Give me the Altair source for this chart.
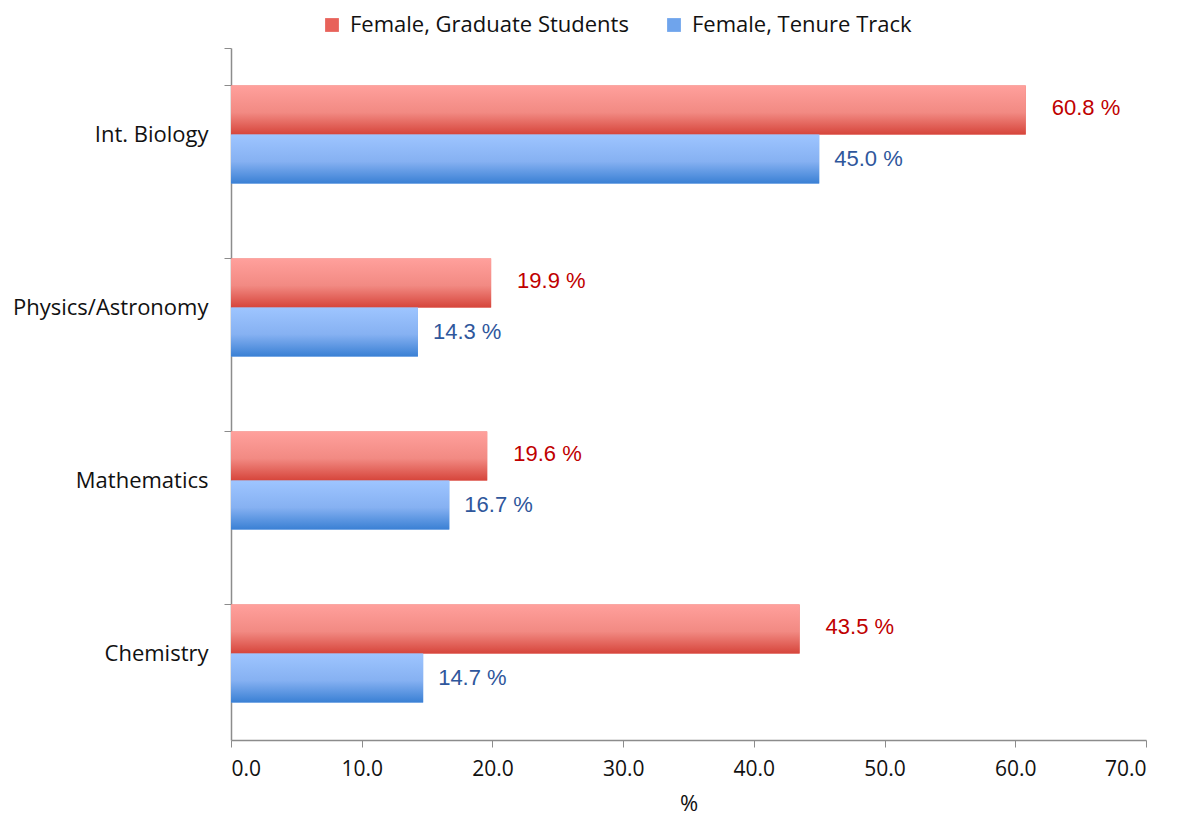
import altair as alt
import pandas as pd

categories = ["Int. Biology", "Physics/Astronomy", "Mathematics", "Chemistry"]
series = ["Female, Graduate Students", "Female, Tenure Track"]
grad_students = [60.8, 19.9, 19.6, 43.5]
tenure_track = [45.0, 14.3, 16.7, 14.7]

rows = []
for c, g, t in zip(categories, grad_students, tenure_track):
    rows.append({"category": c, "series": series[0], "value": g})
    rows.append({"category": c, "series": series[1], "value": t})
df = pd.DataFrame(rows)

red_grad = alt.Gradient(
    gradient="linear", x1=0, x2=0, y1=0, y2=1,
    stops=[alt.GradientStop(color="#FFA09C", offset=0),
           alt.GradientStop(color="#F28A83", offset=0.55),
           alt.GradientStop(color="#D6453B", offset=1)])
blue_grad = alt.Gradient(
    gradient="linear", x1=0, x2=0, y1=0, y2=1,
    stops=[alt.GradientStop(color="#9EC5FF", offset=0),
           alt.GradientStop(color="#86B1F2", offset=0.55),
           alt.GradientStop(color="#3A80D4", offset=1)])

y_enc = alt.Y("category:N", sort=categories, title=None,
              scale=alt.Scale(domain=categories, paddingInner=0.434, paddingOuter=0.217),
              axis=alt.Axis(bandPosition=0, tickExtra=True, tickSize=7, tickColor="#8c8c8c",
                            domainColor="#8c8c8c", labelFont="Open Sans", labelFontSize=22,
                            labelColor="#111111", labelPadding=16, domainWidth=1.5,
                            labelLimit=0))
yoff_enc = alt.YOffset("series:N", scale=alt.Scale(domain=series, paddingInner=0, paddingOuter=0))
x_enc = alt.X("value:Q", title="%",
              scale=alt.Scale(domain=[0, 70], nice=False),
              axis=alt.Axis(values=[0, 10, 20, 30, 40, 50, 60, 70], format=".1f", grid=False,
                            tickSize=7, tickColor="#8c8c8c", domainColor="#8c8c8c",
                            domainWidth=1.5,
                            labelFont="Open Sans", labelFontSize=21, labelColor="#111111",
                            labelPadding=11, titleFont="Open Sans", titleFontSize=22,
                            titleFontWeight="normal", titleColor="#111111", titlePadding=14))

base = alt.Chart(df)

legend_bars = base.mark_bar().encode(
    x=x_enc, y=y_enc, yOffset=yoff_enc,
    color=alt.Color("series:N",
                    scale=alt.Scale(domain=series, range=["#E8625A", "#6FA4EC"]),
                    legend=alt.Legend(title=None, orient="none", direction="horizontal",
                                      legendX=90, legendY=-34, symbolType="square",
                                      symbolSize=190, symbolStrokeWidth=0,
                                      labelFont="Open Sans", labelFontSize=22,
                                      labelColor="#111111", columnPadding=34,
                                      labelOffset=7, padding=0, labelLimit=400)))

red_bars = base.transform_filter(alt.datum.series == series[0]).mark_bar(fill=red_grad).encode(
    x=x_enc, y=y_enc, yOffset=yoff_enc)
blue_bars = base.transform_filter(alt.datum.series == series[1]).mark_bar(fill=blue_grad).encode(
    x=x_enc, y=y_enc, yOffset=yoff_enc)

red_text = base.transform_filter(alt.datum.series == series[0]).transform_calculate(
    label="format(datum.value, '.1f') + ' %'").mark_text(
    align="left", baseline="middle", dx=26, dy=-2, font="Liberation Sans", fontSize=22,
    fill="#C00000").encode(x=x_enc, y=y_enc, yOffset=yoff_enc, text="label:N")
blue_text = base.transform_filter(alt.datum.series == series[1]).transform_calculate(
    label="format(datum.value, '.1f') + ' %'").mark_text(
    align="left", baseline="middle", dx=15, font="Liberation Sans", fontSize=22,
    fill="#2F579C").encode(x=x_enc, y=y_enc, yOffset=yoff_enc, text="label:N")

chart = alt.layer(legend_bars, red_bars, blue_bars, red_text, blue_text).properties(
    width=915, height=692,
    padding={"left": 4, "top": 6, "right": 5, "bottom": 4},
    background="white",
).configure_view(stroke=None)

chart.save("out.html", embed_options={"renderer": "svg", "actions": False})
